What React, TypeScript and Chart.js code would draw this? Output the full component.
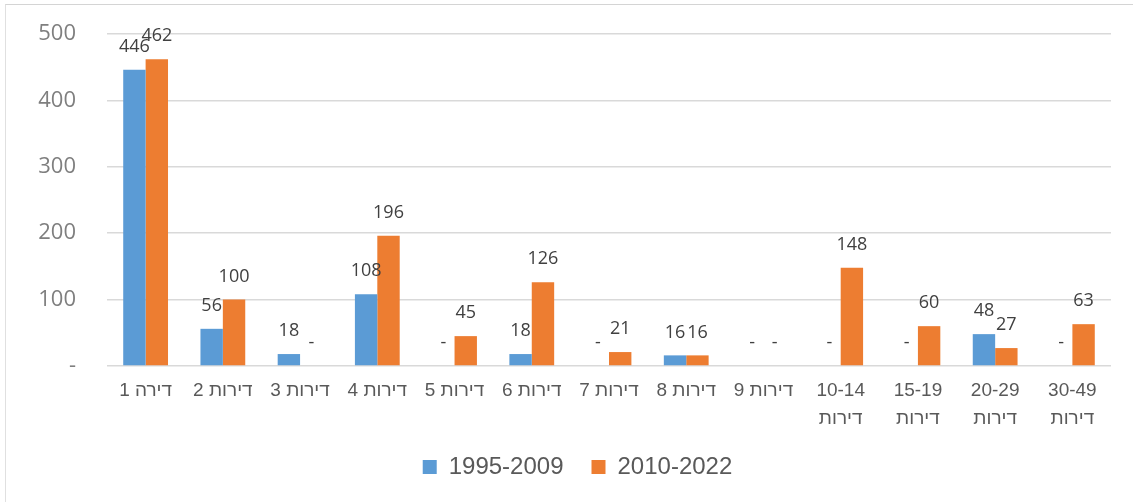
import React, { useEffect, useRef } from "react";
import { Chart, registerables } from "chart.js";

Chart.register(...registerables);

const categories: (string | string[])[] = [
  "1 דירה",
  "2 דירות",
  "3 דירות",
  "4 דירות",
  "5 דירות",
  "6 דירות",
  "7 דירות",
  "8 דירות",
  "9 דירות",
  ["10-14", "דירות"],
  ["15-19", "דירות"],
  ["20-29", "דירות"],
  ["30-49", "דירות"],
];

const seriesNames = ["1995-2009", "2010-2022"];
const series1995 = [446, 56, 18, 108, 0, 18, 0, 16, 0, 0, 0, 48, 0];
const series2010 = [462, 100, 0, 196, 45, 126, 21, 16, 0, 148, 60, 27, 63];
const yTicks = [0, 100, 200, 300, 400, 500];

const BLUE = "#5B9BD5";
const ORANGE = "#ED7D31";

const dataLabelPlugin = {
  id: "dataLabels",
  afterDatasetsDraw(chart: any) {
    const ctx = chart.ctx;
    ctx.save();
    ctx.font = '18px "Open Sans"';
    ctx.fillStyle = "#404040";
    ctx.textAlign = "center";
    ctx.textBaseline = "middle";
    chart.data.datasets.forEach((ds: any, di: number) => {
      const meta = chart.getDatasetMeta(di);
      meta.data.forEach((bar: any, i: number) => {
        const v = ds.data[i];
        const txt = v === 0 ? "-" : String(v);
        ctx.fillText(txt, bar.x, bar.y - 23);
      });
    });
    ctx.restore();
  },
};

const legendShiftPlugin = {
  id: "legendShift",
  afterLayout(chart: any) {
    if (chart.legend) {
      chart.legend.left += 44;
    }
  },
};

export default function App() {
  const ref = useRef<HTMLCanvasElement | null>(null);

  useEffect(() => {
    if (!ref.current) return;
    const chart = new Chart(ref.current, {
      type: "bar",
      data: {
        labels: categories,
        datasets: [
          {
            label: seriesNames[0],
            data: series1995,
            backgroundColor: BLUE,
            categoryPercentage: 0.58,
            barPercentage: 1,
          },
          {
            label: seriesNames[1],
            data: series2010,
            backgroundColor: ORANGE,
            categoryPercentage: 0.58,
            barPercentage: 1,
          },
        ],
      },
      options: {
        animation: false,
        responsive: false,
        devicePixelRatio: 1,
        layout: { padding: { top: 34, right: 22, left: 0, bottom: 13 } },
        plugins: {
          tooltip: { enabled: false },
          legend: {
            position: "bottom",
            labels: {
              boxWidth: 14,
              boxHeight: 14,
              padding: 28,
              color: "#595959",
              font: { family: '"Liberation Sans", Arial', size: 24 },
            },
          },
        },
        scales: {
          x: {
            grid: { display: false },
            border: { display: false },
            ticks: {
              color: "#595959",
              padding: 3,
              maxRotation: 0,
              autoSkip: false,
              font: { family: '"Liberation Sans", Arial', size: 19, lineHeight: 1.47 },
            },
            afterFit: (scale: any) => {
              scale.height = 61;
            },
          },
          y: {
            min: 0,
            max: 500,
            afterBuildTicks: (scale: any) => {
              scale.ticks = yTicks.map((v) => ({ value: v }));
            },
            grid: { color: "#d9d9d9", lineWidth: 1.5, drawTicks: false },
            border: { display: false },
            ticks: {
              color: "#7f7f7f",
              padding: 31,
              font: { family: '"Open Sans"', size: 22 },
              callback: (v: any) => (Number(v) === 0 ? "-" : String(v)),
            },
            afterFit: (scale: any) => {
              scale.width = 107;
              scale.paddingTop = 0;
              scale.paddingBottom = 0;
            },
          },
        },
      },
      plugins: [dataLabelPlugin, legendShiftPlugin],
    });
    return () => chart.destroy();
  }, []);

  return (
    <div style={{ position: "fixed", left: 0, top: 0, width: 1133, height: 502, background: "#fff" }}>
      <div
        style={{
          position: "absolute",
          left: 5,
          top: 4,
          width: 1128,
          height: 498,
          borderTop: "1px solid #d4d4d4",
          borderLeft: "1px solid #e0e0e0",
          pointerEvents: "none",
        }}
      />
      <canvas ref={ref} width={1133} height={502} style={{ position: "absolute", left: 0, top: 0 }} />
    </div>
  );
}
